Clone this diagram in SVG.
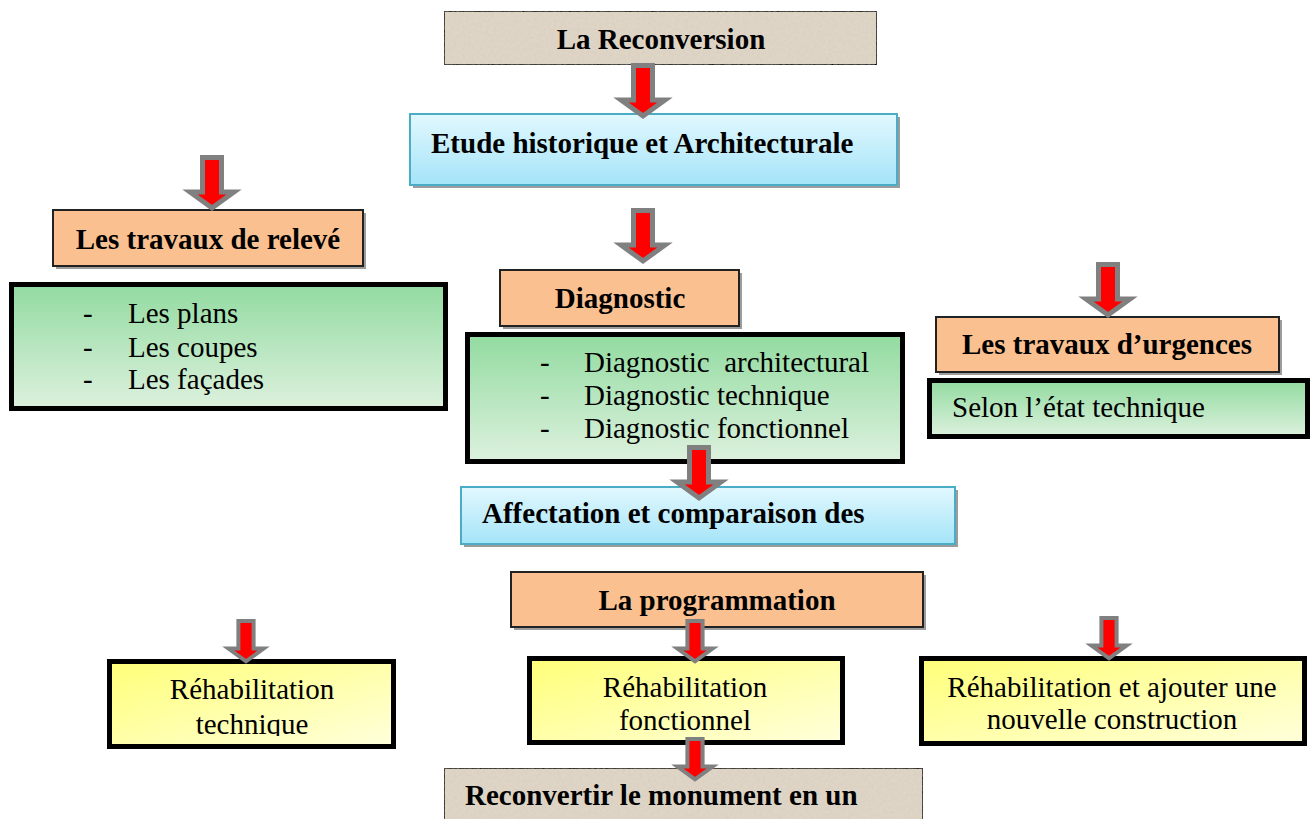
<svg xmlns="http://www.w3.org/2000/svg" width="1311" height="819" viewBox="0 0 1311 819">
<defs>
  <linearGradient id="gGreen" x1="0" y1="0" x2="0" y2="1">
    <stop offset="0" stop-color="#92dba0"/>
    <stop offset="1" stop-color="#ddf1de"/>
  </linearGradient>
  <linearGradient id="gCyan" x1="0" y1="0" x2="0" y2="1">
    <stop offset="0" stop-color="#e2f8fe"/>
    <stop offset="1" stop-color="#a4e4f8"/>
  </linearGradient>
  <linearGradient id="gYellow" x1="0" y1="0" x2="1" y2="1">
    <stop offset="0" stop-color="#ffff78"/>
    <stop offset="1" stop-color="#ffffdc"/>
  </linearGradient>
  <filter id="tex" x="0" y="0" width="1" height="1">
    <feTurbulence type="fractalNoise" baseFrequency="0.35" numOctaves="2" seed="3" result="n"/>
    <feColorMatrix in="n" type="matrix" values="0 0 0 0 0.55  0 0 0 0 0.5  0 0 0 0 0.42  0 0 0 0.35 -0.05" result="c"/>
    <feComposite in="c" in2="SourceGraphic" operator="in" result="cc"/>
    <feMerge><feMergeNode in="SourceGraphic"/><feMergeNode in="cc"/></feMerge>
  </filter>
  <polygon id="arrow" points="-9.5,2.5 9.5,2.5 9.5,37 22,37 0,53 -22,37 -9.5,37" fill="#ff0000" stroke="#808080" stroke-width="5" stroke-linejoin="miter" stroke-miterlimit="10"/>
  <clipPath id="clipTech"><rect x="112" y="664" width="279" height="72"/></clipPath>
</defs>
<style>
  .b { font-family: "Liberation Serif", "DejaVu Serif", serif; font-weight: bold; font-size: 29px; fill: #000; }
  .r { font-family: "Liberation Serif", "DejaVu Serif", serif; font-size: 29px; fill: #000; }
  .beige { fill: #e1d7c8; stroke: #000; stroke-width: 2; }
  .cyan { fill: url(#gCyan); stroke: #4bacc6; stroke-width: 2; }
  .peach { fill: #fac090; stroke: #222; stroke-width: 2; }
  .green { fill: url(#gGreen); stroke: #000; stroke-width: 5; }
  .yellow { fill: url(#gYellow); stroke: #000; stroke-width: 5; }
  .shadow { fill: #9c9c9c; }
</style>
<rect width="1311" height="819" fill="#ffffff"/>

<g id="reconversion">
  <rect class="beige" x="444" y="11" width="433" height="54" filter="url(#tex)"/>
  <text class="b" x="661" y="49" text-anchor="middle">La Reconversion</text>
</g>

<g id="etude">
  <rect class="shadow" x="413" y="117" width="487" height="71"/>
  <rect class="cyan" x="410" y="114" width="487" height="71"/>
  <text class="b" x="431" y="153">Etude historique et Architecturale</text>
</g>

<g id="releve">
  <rect class="shadow" x="56" y="213" width="310" height="56"/>
  <rect class="peach" x="53" y="210" width="310" height="56"/>
  <text class="b" x="208" y="249" text-anchor="middle">Les travaux de relevé</text>
</g>

<g id="releve-list">
  <rect class="green" x="11.5" y="284.5" width="434" height="124"/>
  <text class="r" x="83" y="323">-</text>
  <text class="r" x="128" y="323">Les plans</text>
  <text class="r" x="83" y="357">-</text>
  <text class="r" x="128" y="357">Les coupes</text>
  <text class="r" x="83" y="389">-</text>
  <text class="r" x="128" y="389">Les façades</text>
</g>

<g id="diagnostic">
  <rect class="shadow" x="503" y="273" width="239" height="56"/>
  <rect class="peach" x="500" y="270" width="239" height="56"/>
  <text class="b" x="620" y="308" text-anchor="middle">Diagnostic</text>
</g>

<g id="diagnostic-list">
  <rect class="green" x="467.5" y="334.5" width="435" height="127"/>
  <text class="r" x="540" y="372">-</text>
  <text class="r" x="584" y="372" xml:space="preserve">Diagnostic  architectural</text>
  <text class="r" x="540" y="405">-</text>
  <text class="r" x="584" y="405">Diagnostic technique</text>
  <text class="r" x="540" y="438">-</text>
  <text class="r" x="584" y="438">Diagnostic fonctionnel</text>
</g>

<g id="urgences">
  <rect class="shadow" x="939" y="320" width="343" height="55"/>
  <rect class="peach" x="936" y="317" width="343" height="55"/>
  <text class="b" x="1107" y="354" text-anchor="middle">Les travaux d’urgences</text>
</g>

<g id="urgences-list">
  <rect class="green" x="929.5" y="380.5" width="378" height="56"/>
  <text class="r" x="952" y="417">Selon l’état technique</text>
</g>

<g id="affectation">
  <rect class="shadow" x="464" y="490" width="494" height="57"/>
  <rect class="cyan" x="461" y="487" width="494" height="57"/>
  <text class="b" x="482" y="523">Affectation et comparaison des</text>
</g>

<g id="programmation">
  <rect class="shadow" x="514" y="575" width="412" height="55"/>
  <rect class="peach" x="511" y="572" width="412" height="55"/>
  <text class="b" x="717" y="610" text-anchor="middle">La programmation</text>
</g>

<g id="rehab-technique">
  <rect class="yellow" x="109.5" y="661.5" width="284" height="85"/>
  <g clip-path="url(#clipTech)">
    <text class="r" x="252" y="699" text-anchor="middle">Réhabilitation</text>
    <text class="r" x="252" y="734" text-anchor="middle">technique</text>
  </g>
</g>

<g id="rehab-fonctionnel">
  <rect class="yellow" x="529.5" y="658.5" width="313" height="84"/>
  <text class="r" x="685" y="697" text-anchor="middle">Réhabilitation</text>
  <text class="r" x="685" y="730" text-anchor="middle">fonctionnel</text>
</g>

<g id="rehab-nouvelle">
  <rect class="yellow" x="921.5" y="658.5" width="383" height="85"/>
  <text class="r" x="1112" y="697" text-anchor="middle">Réhabilitation et ajouter une</text>
  <text class="r" x="1112" y="729" text-anchor="middle">nouvelle construction</text>
</g>

<g id="reconvertir">
  <rect class="beige" x="444" y="768" width="479" height="60" filter="url(#tex)"/>
  <text class="b" x="465" y="805">Reconvertir le monument en un</text>
</g>

<g id="connectors">
  <use href="#arrow" transform="translate(643,63)"/>
  <use href="#arrow" transform="translate(212,155)"/>
  <use href="#arrow" transform="translate(643,208)"/>
  <use href="#arrow" transform="translate(1108,262)"/>
  <use href="#arrow" transform="translate(699,445)"/>
  <use href="#arrow" transform="translate(246,619) scale(0.8)"/>
  <use href="#arrow" transform="translate(695,619) scale(0.8)"/>
  <use href="#arrow" transform="translate(695,737) scale(0.8)"/>
  <use href="#arrow" transform="translate(1109,616) scale(0.8)"/>
</g>
</svg>
